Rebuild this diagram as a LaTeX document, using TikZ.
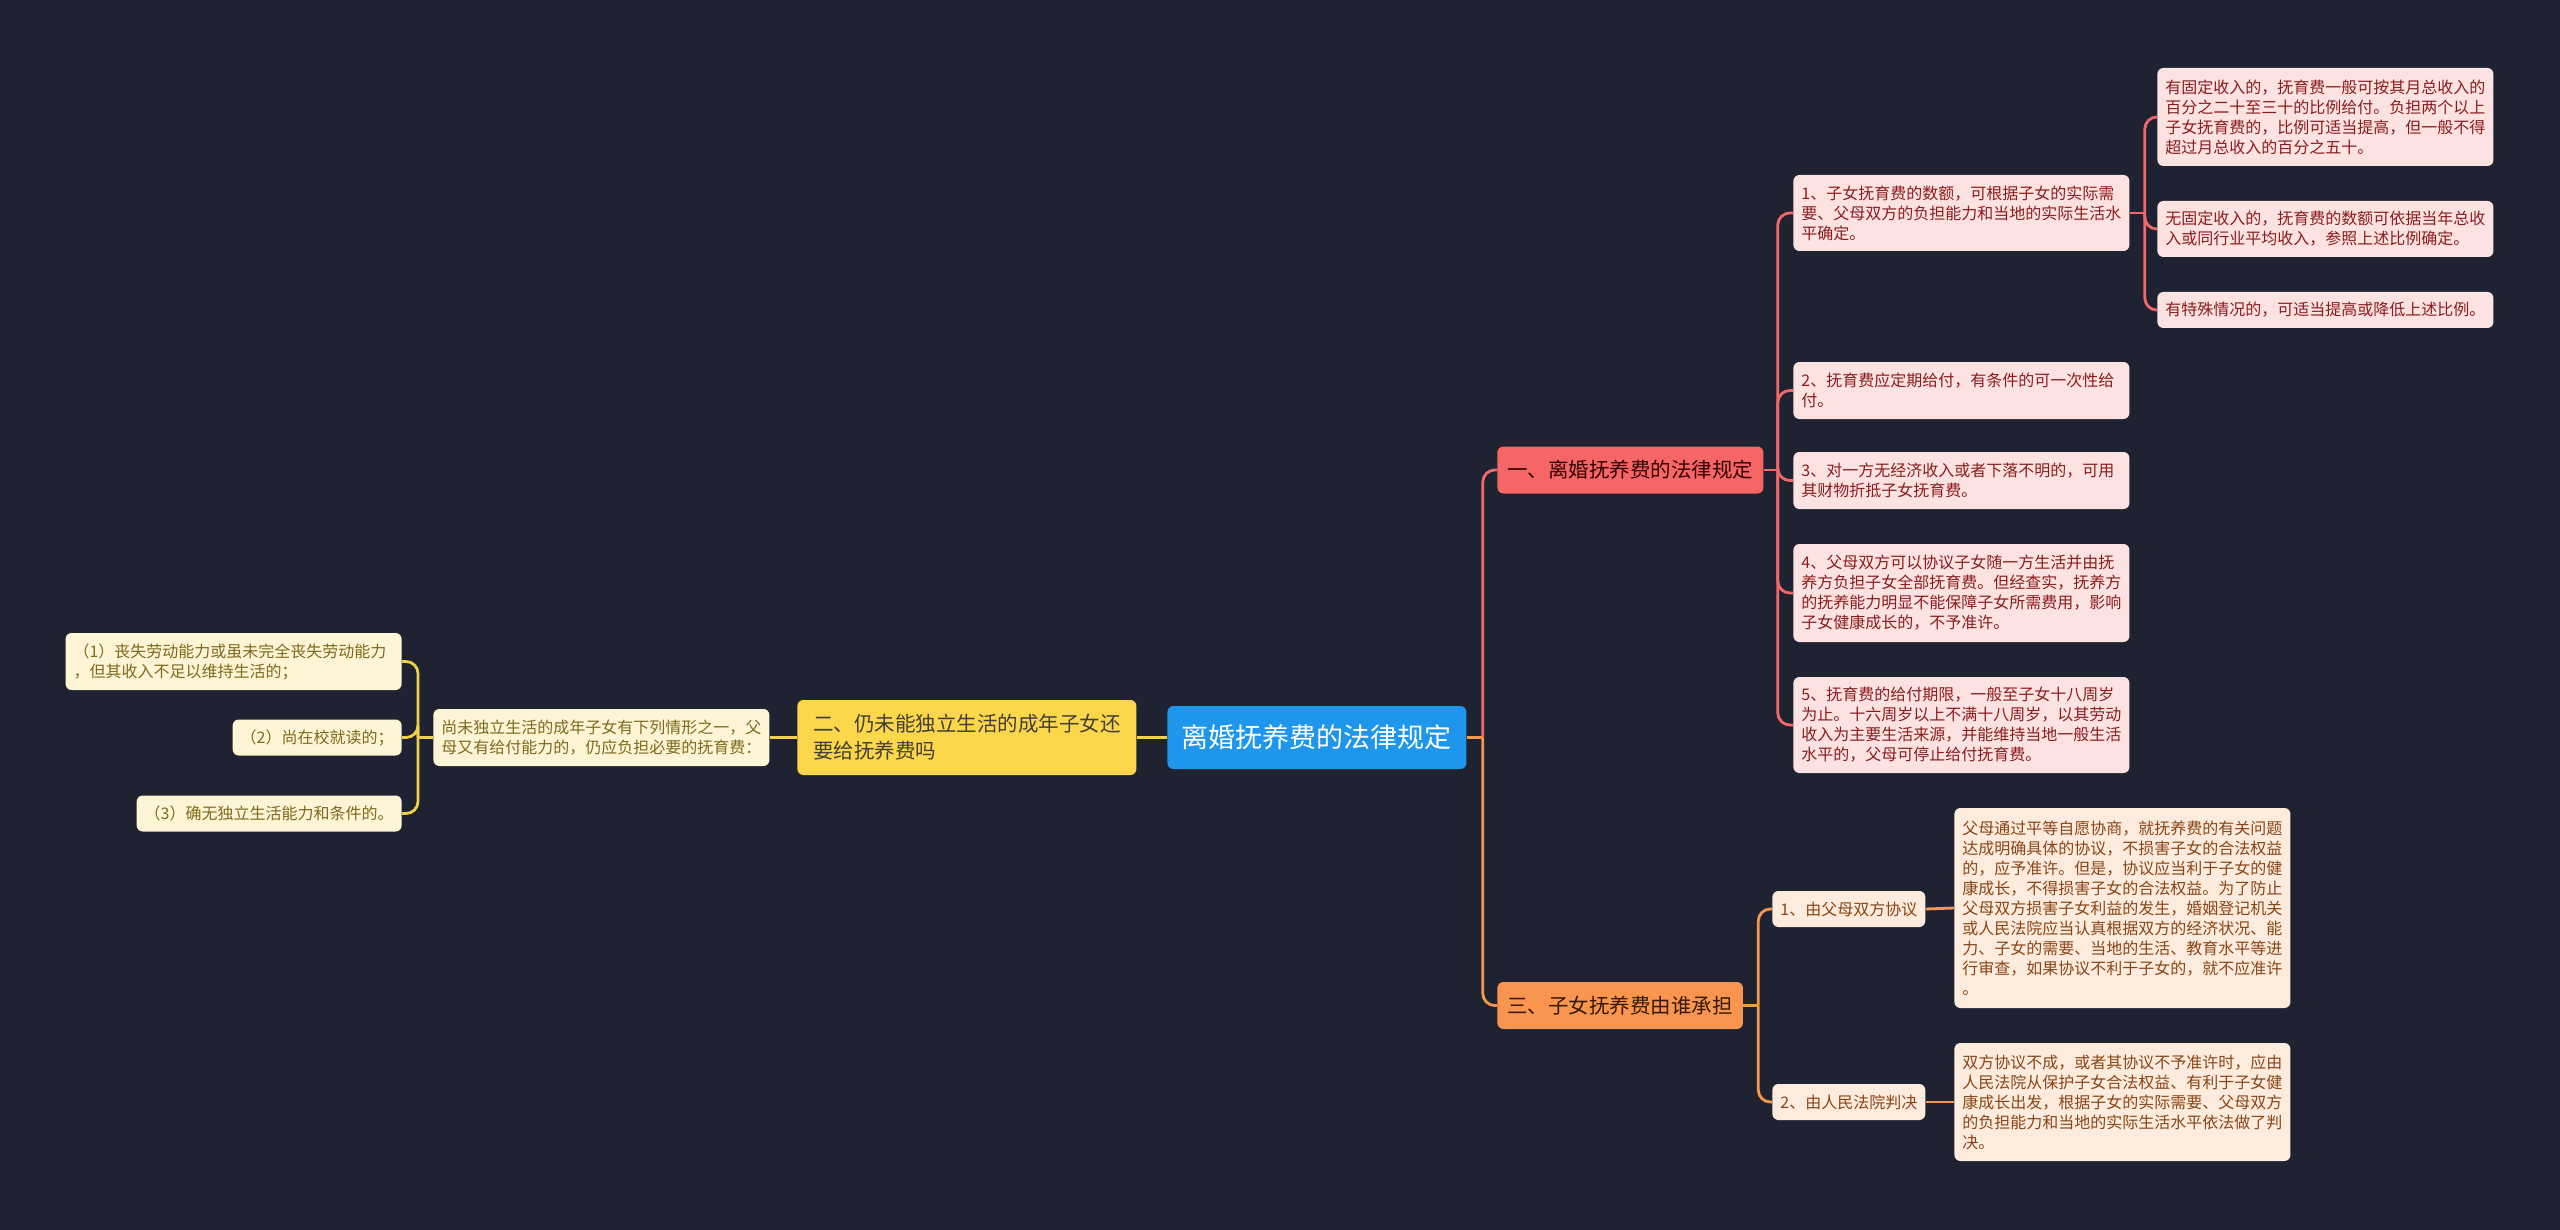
\documentclass[tikz,border=0pt]{standalone}
\usepackage{fontspec}
\setmainfont{Noto Sans CJK SC}
\usetikzlibrary{positioning,calc}
\definecolor{bg}{HTML}{1F2331}
\definecolor{rootc}{HTML}{1E96EB}
\definecolor{redc}{HTML}{F66666}
\definecolor{redline}{HTML}{F06868}
\definecolor{redleaf}{HTML}{FDE2E2}
\definecolor{redtext}{HTML}{8B1C1C}
\definecolor{yelc}{HTML}{FCD64B}
\definecolor{yelline}{HTML}{F2CF48}
\definecolor{yelleaf}{HTML}{FDF5D6}
\definecolor{yeltext}{HTML}{7D6A1A}
\definecolor{orac}{HTML}{FA9550}
\definecolor{oraline}{HTML}{F3994F}
\definecolor{oraleaf}{HTML}{FDEBDD}
\definecolor{oratext}{HTML}{8A4515}

\begin{document}
\begin{tikzpicture}[x=0.5pt, y=-0.5pt,
  box/.style={rounded corners=3pt, anchor=west, inner xsep=4pt, inner ysep=2pt},
  root/.style={box, fill=rootc, text=white, align=center, font=\fontsize{13.5}{16}\selectfont, minimum width=149.5pt, minimum height=31.5pt},
  main/.style={box, align=left, font=\fontsize{10.25}{13.5}\selectfont, minimum height=23.5pt, inner xsep=5pt},
  redm/.style={main, fill=redc, text=black!80!red},
  yelm/.style={main, fill=yelc, text=black!85!yellow},
  oram/.style={main, fill=orac, text=black!80!orange},
  leaf/.style={box, align=left, font=\fontsize{8}{10}\selectfont, text width=160pt},
  redl/.style={leaf, fill=redleaf, text=redtext},
  yell/.style={leaf, fill=yelleaf, text=yeltext},
  oral/.style={leaf, fill=oraleaf, text=oratext},
  tag/.style={box, align=center, font=\fontsize{8}{10}\selectfont, minimum height=18pt},
  rline/.style={draw=redline, line width=1.4pt, rounded corners=6pt},
  yline/.style={draw=yelline, line width=1.4pt, rounded corners=6pt},
  oline/.style={draw=oraline, line width=1.4pt, rounded corners=6pt}]
  \fill[bg] (0,0) rectangle (2560,1230);

  % centre and main branches
  \node[root] (root) at (1167,737.5) {离婚抚养费的法律规定};
  \node[redm, minimum width=133pt] (b1) at (1497,470) {一、离婚抚养费的法律规定};
  \node[yelm, minimum width=169.5pt, minimum height=37.5pt] (b2) at (797,737.5) {二、仍未能独立生活的成年子女还\\要给抚养费吗};
  \node[oram, minimum width=122.5pt] (b3) at (1497,1005.5) {三、子女抚养费由谁承担};

  % branch one
  \node[redl, minimum height=38pt] (r1) at (1793,213) {1、子女抚育费的数额，可根据子女的实际需\\要、父母双方的负担能力和当地的实际生活水\\平确定。};
  \node[redl, minimum height=28.5pt] (r2) at (1793,390.5) {2、抚育费应定期给付，有条件的可一次性给\\付。};
  \node[redl, minimum height=28.5pt] (r3) at (1793,480.5) {3、对一方无经济收入或者下落不明的，可用\\其财物折抵子女抚育费。};
  \node[redl, minimum height=49pt] (r4) at (1793,593) {4、父母双方可以协议子女随一方生活并由抚\\养方负担子女全部抚育费。但经查实，抚养方\\的抚养能力明显不能保障子女所需费用，影响\\子女健康成长的，不予准许。};
  \node[redl, minimum height=48pt] (r5) at (1793,725) {5、抚育费的给付期限，一般至子女十八周岁\\为止。十六周岁以上不满十八周岁，以其劳动\\收入为主要生活来源，并能维持当地一般生活\\水平的，父母可停止给付抚育费。};
  \node[redl, minimum height=49pt] (s1) at (2157,117) {有固定收入的，抚育费一般可按其月总收入的\\百分之二十至三十的比例给付。负担两个以上\\子女抚育费的，比例可适当提高，但一般不得\\超过月总收入的百分之五十。};
  \node[redl, minimum height=28pt] (s2) at (2157,229) {无固定收入的，抚育费的数额可依据当年总收\\入或同行业平均收入，参照上述比例确定。};
  \node[redl, minimum height=18pt] (s3) at (2157,310) {有特殊情况的，可适当提高或降低上述比例。};

  % branch two
  \node[yell, minimum height=28.5pt] (sub) at (433,737.5) {尚未独立生活的成年子女有下列情形之一，父\\母又有给付能力的，仍应负担必要的抚育费：};
  \node[yell, minimum height=28.5pt, anchor=east] (l1) at (402,661.5) {（1）丧失劳动能力或虽未完全丧失劳动能力\\，但其收入不足以维持生活的；};
  \node[tag, fill=yelleaf, text=yeltext, minimum width=84pt, anchor=east] (l2) at (402,737.5) {（2）尚在校就读的；};
  \node[tag, fill=yelleaf, text=yeltext, minimum width=131.5pt, anchor=east] (l3) at (402,813.5) {（3）确无独立生活能力和条件的。};

  % branch three
  \node[tag, fill=oraleaf, text=oratext, minimum width=76pt] (c1) at (1772,909) {1、由父母双方协议};
  \node[tag, fill=oraleaf, text=oratext, minimum width=76pt] (c2) at (1772,1102) {2、由人民法院判决};
  \node[oral, minimum height=100pt] (o1) at (1954,908) {父母通过平等自愿协商，就抚养费的有关问题\\达成明确具体的协议，不损害子女的合法权益\\的，应予准许。但是，协议应当利于子女的健\\康成长，不得损害子女的合法权益。为了防止\\父母双方损害子女利益的发生，婚姻登记机关\\或人民法院应当认真根据双方的经济状况、能\\力、子女的需要、当地的生活、教育水平等进\\行审查，如果协议不利于子女的，就不应准许\\。};
  \node[oral, minimum height=59pt] (o2) at (1954,1102) {双方协议不成，或者其协议不予准许时，应由\\人民法院从保护子女合法权益、有利于子女健\\康成长出发，根据子女的实际需要、父母双方\\的负担能力和当地的实际生活水平依法做了判\\决。};

  % junctions
  \coordinate (jc) at ($(root.east)+(16,0)$);
  \coordinate (j1) at ($(b1.east)+(14,0)$);
  \coordinate (j2) at ($(r1.east)+(15,0)$);
  \coordinate (j3) at ($(b3.east)+(15,0)$);
  \coordinate (jl) at ($(sub.west)+(-15,0)$);

  \draw[oline] (root.east) -- (jc);
  \draw[rline] (jc) |- (b1.west);
  \draw[oline] (jc) |- (b3.west);
  \draw[yline] (root.west) -- (b2.east);
  \draw[yline] (b2.west) -- (sub.east);

  \draw[rline] (b1.east) -- (j1);
  \draw[rline] (j1) |- (r1.west);
  \draw[rline] (j1) |- (r2.west);
  \draw[rline] (j1) |- (r3.west);
  \draw[rline] (j1) |- (r4.west);
  \draw[rline] (j1) |- (r5.west);
  \draw[rline] (r1.east) -- (j2);
  \draw[rline] (j2) |- (s1.west);
  \draw[rline] (j2) |- (s2.west);
  \draw[rline] (j2) |- (s3.west);

  \draw[yline] (sub.west) -- (jl);
  \draw[yline] (jl) |- (l1.east);
  \draw[yline] (jl) |- (l2.east);
  \draw[yline] (jl) |- (l3.east);

  \draw[oline] (b3.east) -- (j3);
  \draw[oline] (j3) |- (c1.west);
  \draw[oline] (j3) |- (c2.west);
  \draw[oline] (c1.east) -- (o1.west);
  \draw[oline] (c2.east) -- (o2.west);
\end{tikzpicture}
\end{document}
